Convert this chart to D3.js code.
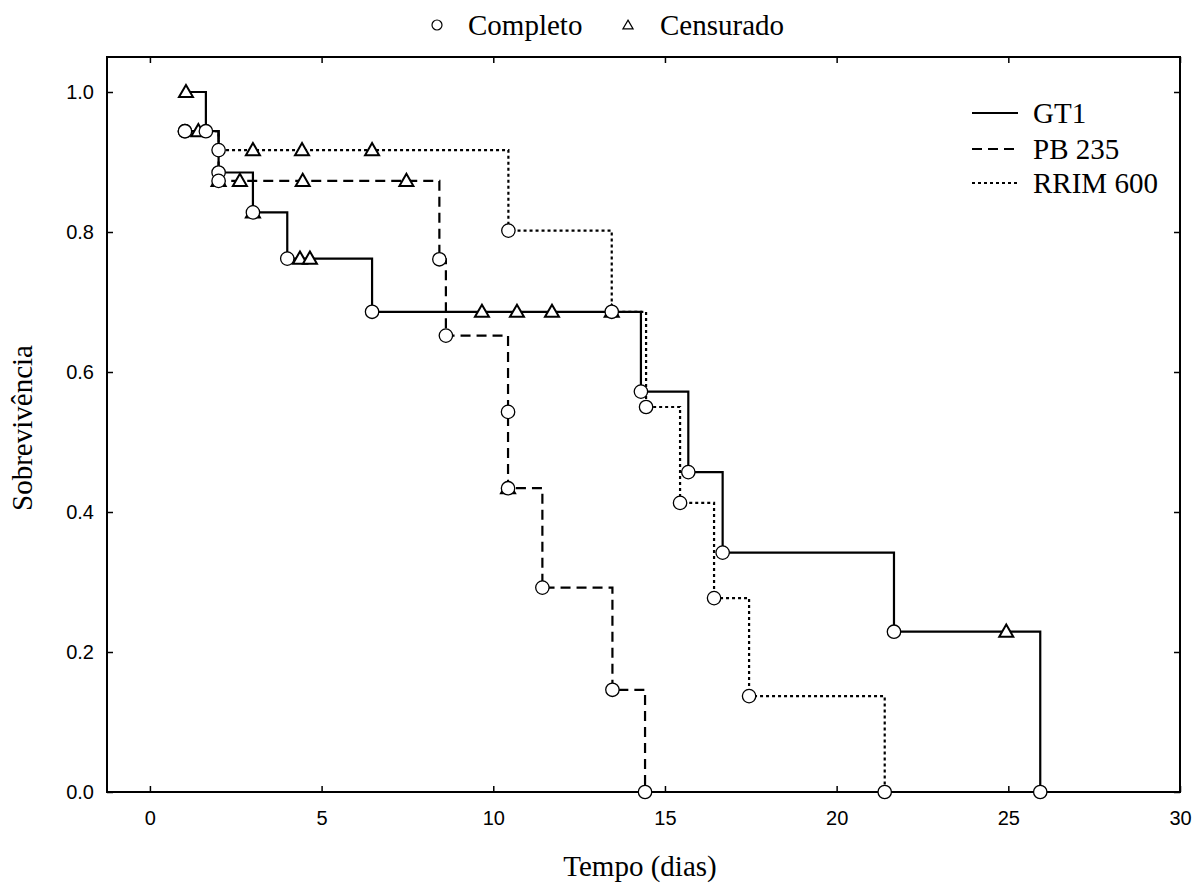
<!DOCTYPE html>
<html>
<head>
<meta charset="utf-8">
<script src="https://cdn.jsdelivr.net/npm/d3@7"></script>
<style>
  html, body { margin: 0; padding: 0; background: #fff; }
  svg { display: block; }
</style>
</head>
<body>
<svg id="chart" width="1198" height="891"></svg>
<script>
// ---------------- DATA ----------------
const seriesNames = ["GT1", "PB 235", "RRIM 600"];

// step points (time in days, survival) - each point drawn as a step after the previous
const gt1Times = [1.05, 1.63, 2.0, 3.0, 4.0, 6.47, 14.3, 15.68, 16.68, 21.67, 25.93];
const gt1Surv  = [1.0, 0.944, 0.885, 0.828, 0.762, 0.686, 0.572, 0.457, 0.342, 0.229, 0.0];
const gt1CensTimes = [1.05, 3.0, 4.37, 4.66, 9.67, 10.69, 11.71, 13.45, 24.94];
const gt1CensSurv  = [1.0, 0.828, 0.762, 0.762, 0.686, 0.686, 0.686, 0.686, 0.229];

const pbTimes = [1.02, 2.0, 8.43, 8.62, 10.43, 10.43, 11.43, 13.47, 14.42];
const pbSurv  = [0.944, 0.873, 0.761, 0.652, 0.543, 0.434, 0.292, 0.146, 0.0];
const pbCensTimes = [2.0, 2.62, 4.45, 7.47, 10.43];
const pbCensSurv  = [0.873, 0.873, 0.873, 0.873, 0.434];

const rrimTimes = [1.02, 2.0, 10.44, 13.45, 14.45, 15.44, 16.43, 17.45, 21.4];
const rrimSurv  = [0.944, 0.917, 0.802, 0.686, 0.55, 0.413, 0.277, 0.137, 0.0];
const rrimCensTimes = [1.41, 3.0, 4.43, 6.47];
const rrimCensSurv  = [0.944, 0.917, 0.917, 0.917];

const xTicks = [0, 5, 10, 15, 20, 25, 30];
const yTicks = [0.0, 0.2, 0.4, 0.6, 0.8, 1.0];

const xTitle = "Tempo (dias)";
const yTitle = "Sobrevivência";
const markerLegend = ["Completo", "Censurado"];

// ---------------- SETUP ----------------
const svg = d3.select("#chart");
const L = 107, R = 1180, T = 57, B = 792;
const x = d3.scaleLinear().domain([-1.25, 30]).range([L, R]);
const y = d3.scaleLinear().domain([0, 1.05]).range([B, T]);

const dashes = ["none", "10,6", "3,3"];
const series = [
  { name: seriesNames[0], t: gt1Times, s: gt1Surv, ct: gt1CensTimes, cs: gt1CensSurv, dash: dashes[0] },
  { name: seriesNames[1], t: pbTimes,  s: pbSurv,  ct: pbCensTimes,  cs: pbCensSurv,  dash: dashes[1] },
  { name: seriesNames[2], t: rrimTimes, s: rrimSurv, ct: rrimCensTimes, cs: rrimCensSurv, dash: dashes[2] }
];

const tickFont = "'Liberation Sans', Arial, sans-serif";
const serifFont = "'Liberation Serif', 'Times New Roman', serif";

// ---------------- AXES ----------------
const axB = svg.append("g").attr("transform", `translate(0,${B})`)
  .call(d3.axisBottom(x).tickValues(xTicks).tickFormat(d3.format("d")).tickSizeInner(-6).tickSizeOuter(0).tickPadding(19));
const axT = svg.append("g").attr("transform", `translate(0,${T})`)
  .call(d3.axisTop(x).tickValues(xTicks).tickFormat("").tickSizeInner(-6).tickSizeOuter(0));
const axL = svg.append("g").attr("transform", `translate(${L},0)`)
  .call(d3.axisLeft(y).tickValues(yTicks).tickFormat(d3.format(".1f")).tickSizeInner(-6).tickSizeOuter(0).tickPadding(13));
const axR = svg.append("g").attr("transform", `translate(${R},0)`)
  .call(d3.axisRight(y).tickValues(yTicks).tickFormat("").tickSizeInner(-6).tickSizeOuter(0));

[axB, axT, axL, axR].forEach(g => {
  g.select(".domain").remove();
  g.selectAll(".tick line").attr("stroke", "#000").attr("stroke-width", 1.5);
  g.selectAll(".tick text").attr("fill", "#000").attr("font-family", tickFont).attr("font-size", 20);
});

svg.append("rect").attr("x", L).attr("y", T).attr("width", R - L).attr("height", B - T)
  .attr("fill", "none").attr("stroke", "#000").attr("stroke-width", 2);

// titles
svg.append("text").attr("x", 640).attr("y", 876).attr("text-anchor", "middle")
  .attr("font-family", serifFont).attr("font-size", 29).text(xTitle);
svg.append("text").attr("transform", "translate(32,428) rotate(-90)").attr("text-anchor", "middle")
  .attr("font-family", serifFont).attr("font-size", 29).text(yTitle);

// ---------------- LINES ----------------
const line = d3.line().x(d => x(d[0])).y(d => y(d[1])).curve(d3.curveStepAfter);
series.forEach(sr => {
  const pts = sr.t.map((t, i) => [t, sr.s[i]]);
  svg.append("path").attr("d", line(pts)).attr("fill", "none")
    .attr("stroke", "#000").attr("stroke-width", 2.2)
    .attr("stroke-dasharray", sr.dash);
});

// ---------------- MARKERS ----------------
const tri = d3.symbol().type(d3.symbolTriangle).size(85);
series.forEach(sr => {
  sr.ct.forEach((t, i) => {
    svg.append("path").attr("d", tri())
      .attr("transform", `translate(${x(t)},${y(sr.cs[i]) + 1})`)
      .attr("fill", "#fff").attr("stroke", "#000").attr("stroke-width", 2);
  });
});
series.forEach(sr => {
  sr.t.forEach((t, i) => {
    if (sr.name === seriesNames[0] && i === 0) return; // GT1 starts censored
    svg.append("circle").attr("cx", x(t)).attr("cy", y(sr.s[i])).attr("r", 6.7)
      .attr("fill", "#fff").attr("stroke", "#000").attr("stroke-width", 1.3);
  });
});

// ---------------- LEGENDS ----------------
// top marker legend
svg.append("circle").attr("cx", 437).attr("cy", 25).attr("r", 5)
  .attr("fill", "#fff").attr("stroke", "#000").attr("stroke-width", 1.2);
svg.append("text").attr("x", 468).attr("y", 35).attr("font-family", serifFont).attr("font-size", 29)
  .text(markerLegend[0]);
svg.append("path").attr("d", d3.symbol().type(d3.symbolTriangle).size(45)())
  .attr("transform", "translate(628,26)").attr("fill", "#fff").attr("stroke", "#000").attr("stroke-width", 1.2);
svg.append("text").attr("x", 660).attr("y", 35).attr("font-family", serifFont).attr("font-size", 29)
  .text(markerLegend[1]);

// series legend
const legY = [113, 149, 183];
series.forEach((sr, i) => {
  svg.append("line").attr("x1", 972).attr("x2", 1018).attr("y1", legY[i]).attr("y2", legY[i])
    .attr("stroke", "#000").attr("stroke-width", 2).attr("stroke-dasharray", sr.dash);
  svg.append("text").attr("x", 1033).attr("y", legY[i] + 10).attr("font-family", serifFont)
    .attr("font-size", 29).text(sr.name);
});
</script>
</body>
</html>
